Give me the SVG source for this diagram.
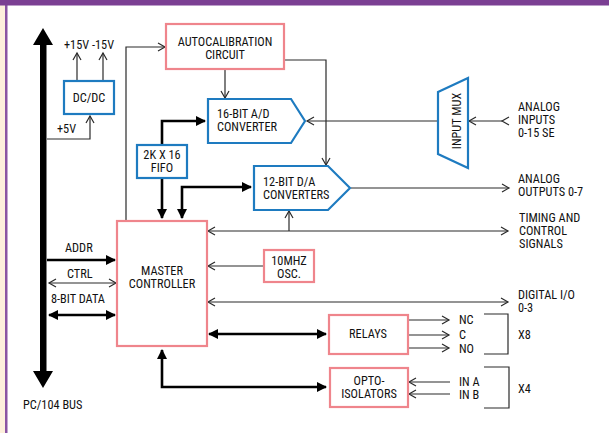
<svg xmlns="http://www.w3.org/2000/svg" width="609" height="433" viewBox="0 0 609 433">
<style>
text{font-family:"Liberation Sans Narrow","Roboto Condensed","DejaVu Sans Condensed","Liberation Sans",sans-serif;font-size:12.3px;fill:#111;font-stretch:condensed}
.m{text-anchor:middle}
.bl{fill:#fff;stroke:#1e7bc0;stroke-width:2.2}
.pk{fill:#fff;stroke:#ef858c;stroke-width:2.2}
.t{fill:none;stroke:#2a2a2a;stroke-width:1.2}
.k{fill:none;stroke:#000;stroke-width:2.6}
.oa{marker-end:url(#oa)}
.ob{marker-start:url(#oa);marker-end:url(#oa)}
.fa{marker-end:url(#fa)}
.fb{marker-start:url(#fa);marker-end:url(#fa)}
</style>
<defs>
<marker id="oa" markerUnits="userSpaceOnUse" viewBox="-9 -6 11 12" markerWidth="11" markerHeight="12" refX="0" refY="0" orient="auto-start-reverse"><path d="M-7,-4 L0,0 L-7,4" fill="none" stroke="#2a2a2a" stroke-width="1.2"/></marker>
<marker id="oas" markerUnits="userSpaceOnUse" viewBox="-9 -6 11 12" markerWidth="11" markerHeight="12" refX="0" refY="0" orient="auto"><path d="M-7,-4 L0,0 L-7,4" fill="none" stroke="#2a2a2a" stroke-width="1.2"/></marker>
<marker id="fa" markerUnits="userSpaceOnUse" viewBox="-11 -6 13 12" markerWidth="13" markerHeight="12" refX="0" refY="0" orient="auto-start-reverse"><path d="M-9,-5 L1,0 L-9,5 Z" fill="#000"/></marker>
</defs>
<rect x="0" y="0" width="609" height="433" fill="#fff"/>
<rect x="0" y="0" width="6" height="433" fill="#fdf0dc"/>
<rect x="5" y="0" width="2.5" height="433" fill="#8a55a3"/>
<rect x="0" y="0" width="609" height="5.5" fill="#7b3f93"/>

<g id="connectors">
<path d="M40,45 L33,45 L43,28 L53,45 L46.5,45 L46.5,371 L53,371 L43,388 L33,371 L40,371 Z" fill="#000"/>
<path class="t oa" d="M47,139 H90 V116"/>
<path class="t oa" d="M77,81 V53"/>
<path class="t oa" d="M103,81 V53"/>
<path class="t oa" d="M126,221 V47 H165"/>
<path class="t oa" d="M225,69 V98"/>
<path class="t oa" d="M284,60 H326 V165"/>
<path class="k fa" d="M162,145 V121 H205"/>
<path class="k fa" d="M162,178 V218"/>
<path class="k fb" d="M182,218 V187 H251"/>
<path class="t oa" d="M438,121 H307"/>
<path class="t" d="M502,121 H469" marker-start="url(#oas)" marker-end="url(#oa)"/>
<path class="t oa" d="M351,188 H509"/>
<path class="t ob" d="M208,231 H508"/>
<path class="t oa" d="M289,231 V211"/>
<path class="t oa" d="M264,266 H208" stroke="#555"/>
<path class="t ob" d="M208,302 H508"/>
<path class="k fb" d="M209,334 H326"/>
<path class="k fb" d="M162,350 V387 H326"/>
<path class="k fa" d="M47,260 H115" stroke-width="2"/>
<path class="t ob" d="M49,283 H116"/>
<path class="k fb" d="M49,315 H115"/>
<path class="t oa" d="M408,320 H449"/>
<path class="t oa" d="M408,335 H449"/>
<path class="t oa" d="M408,348 H449"/>
<path class="t oa" d="M450,382 H409"/>
<path class="t oa" d="M450,394 H409"/>
<path class="t" d="M484,314 H508 V354 H484"/>
<path class="t" d="M484,367 H509 V408 H484"/>
</g>

<g id="dcdc"><rect class="bl" x="64" y="81" width="50" height="33"/><text class="m" x="89" y="102">DC/DC</text></g>
<g id="autocal"><rect class="pk" x="166" y="24" width="118" height="45"/><text class="m" x="225" y="45.5">AUTOCALIBRATION</text><text class="m" x="225" y="58.5">CIRCUIT</text></g>
<g id="ad"><path class="bl" d="M208,99 H291 L305,121 L291,143 H208 Z"/><text x="217" y="118">16-BIT A/D</text><text x="217" y="131">CONVERTER</text></g>
<g id="fifo"><rect class="bl" x="137" y="145" width="50" height="33"/><text class="m" x="162" y="158.5">2K X 16</text><text class="m" x="162" y="171.5">FIFO</text></g>
<g id="da"><path class="bl" d="M254,166 H328 L350,188 L328,210 H254 Z"/><text x="263" y="186">12-BIT D/A</text><text x="263" y="199">CONVERTERS</text></g>
<g id="mux"><path class="bl" d="M438,92 L468,78 V168 L438,154 Z"/><text class="m" transform="translate(461,121) rotate(-90)">INPUT MUX</text></g>
<g id="master"><rect class="pk" x="117" y="221" width="90" height="125"/><text class="m" x="162" y="275">MASTER</text><text class="m" x="162" y="288">CONTROLLER</text></g>
<g id="osc"><rect class="pk" x="264" y="250" width="50" height="32"/><text class="m" x="289" y="264.5">10MHZ</text><text class="m" x="289" y="277.5">OSC.</text></g>
<g id="relays"><rect class="pk" x="329" y="315" width="79" height="39"/><text class="m" x="368" y="338">RELAYS</text></g>
<g id="opto"><rect class="pk" x="330" y="368" width="78" height="39"/><text class="m" x="369" y="385">OPTO-</text><text class="m" x="369" y="398">ISOLATORS</text></g>

<g id="labels">
<text x="64" y="49">+15V</text><text x="92" y="49">-15V</text>
<text x="57" y="133">+5V</text>
<text x="65" y="252">ADDR</text>
<text x="67" y="278">CTRL</text>
<text x="51" y="303">8-BIT DATA</text>
<text x="23" y="409">PC/104 BUS</text>
<text x="518" y="111">ANALOG</text><text x="518" y="124">INPUTS</text><text x="518" y="137">0-15 SE</text>
<text x="518" y="183">ANALOG</text><text x="518" y="196">OUTPUTS 0-7</text>
<text x="519" y="222">TIMING AND</text><text x="519" y="235">CONTROL</text><text x="519" y="248">SIGNALS</text>
<text x="518" y="299">DIGITAL I/O</text><text x="518" y="312">0-3</text>
<text x="459" y="324">NC</text><text x="459" y="339">C</text><text x="459" y="353">NO</text>
<text x="518" y="339">X8</text>
<text x="459" y="386">IN A</text><text x="459" y="399">IN B</text>
<text x="518" y="393">X4</text>
</g>
</svg>
